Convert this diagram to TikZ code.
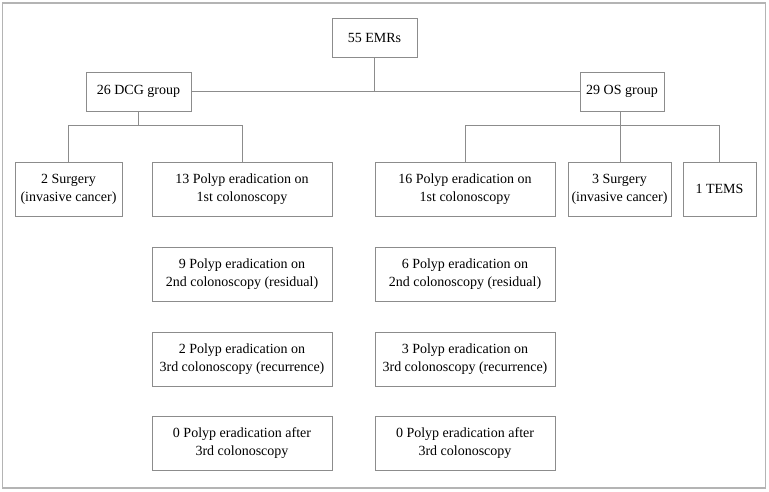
\documentclass[tikz,border=0pt]{standalone}
\usepackage{fontspec}
\setmainfont{Liberation Serif}
\usepackage{tikz}
\usetikzlibrary{positioning,calc}
\definecolor{boxgray}{RGB}{140,140,140}
\definecolor{framegray}{RGB}{180,180,180}
\tikzset{
	box/.style={rectangle,draw=boxgray,line width=0.9pt,inner sep=0pt,align=center,minimum height=54pt,font=\fontsize{14}{18}\selectfont},
	sbox/.style={box,minimum height=39pt},
	link/.style={draw=boxgray,line width=0.9pt}}

\begin{document}
\begin{tikzpicture}[x=1pt,y=-1pt]
	\useasboundingbox (0,0) rectangle (769,491);
	\draw [framegray,line width=1.5pt] (2.5,3) rectangle (765.5,488);
	\node (EMR) at (374.5,37.5) [sbox,minimum width=85pt] {55 EMRs};
	\node (DCG) at (138.5,91.5) [sbox,minimum width=105pt] {26 DCG group};
	\node (OS) at (622,91.5) [sbox,minimum width=84pt] {29 OS group};
	\node (S1) at (68.5,189) [box,minimum width=107pt] {2 Surgery\\(invasive cancer)};
	\node (A1) at (242,189) [box,minimum width=180pt] {13 Polyp eradication on\\1st colonoscopy};
	\node (A2) at (242,274) [box,minimum width=180pt] {9 Polyp eradication on\\2nd colonoscopy (residual)};
	\node (A3) at (242,359) [box,minimum width=180pt] {2 Polyp eradication on\\3rd colonoscopy (recurrence)};
	\node (A4) at (242,443) [box,minimum width=180pt] {0 Polyp eradication after\\3rd colonoscopy};
	\node (B1) at (465,189) [box,minimum width=180pt] {16 Polyp eradication on\\1st colonoscopy};
	\node (B2) at (465,274) [box,minimum width=180pt] {6 Polyp eradication on\\2nd colonoscopy (residual)};
	\node (B3) at (465,359) [box,minimum width=180pt] {3 Polyp eradication on\\3rd colonoscopy (recurrence)};
	\node (B4) at (465,443) [box,minimum width=180pt] {0 Polyp eradication after\\3rd colonoscopy};
	\node (S2) at (619.5,189) [box,minimum width=103pt] {3 Surgery\\(invasive cancer)};
	\node (T) at (719.5,189) [box,minimum width=73pt] {1 TEMS};
	\coordinate (dfork) at (138.5,125);
	\coordinate (ofork) at (620,125);
	\draw [link] (EMR) -- (EMR |- DCG);
	\draw [link] (DCG) -- (OS);
	\draw [link] (DCG) -- (dfork);
	\draw [link] (S1.north) |- (dfork);
	\draw [link] (A1.north) |- (dfork);
	\draw [link] (OS.south -| ofork) -- (ofork);
	\draw [link] (B1.north) |- (ofork);
	\draw [link] (S2.north -| ofork) -- (ofork);
	\draw [link] (T.north) |- (ofork);
\end{tikzpicture}
\end{document}
